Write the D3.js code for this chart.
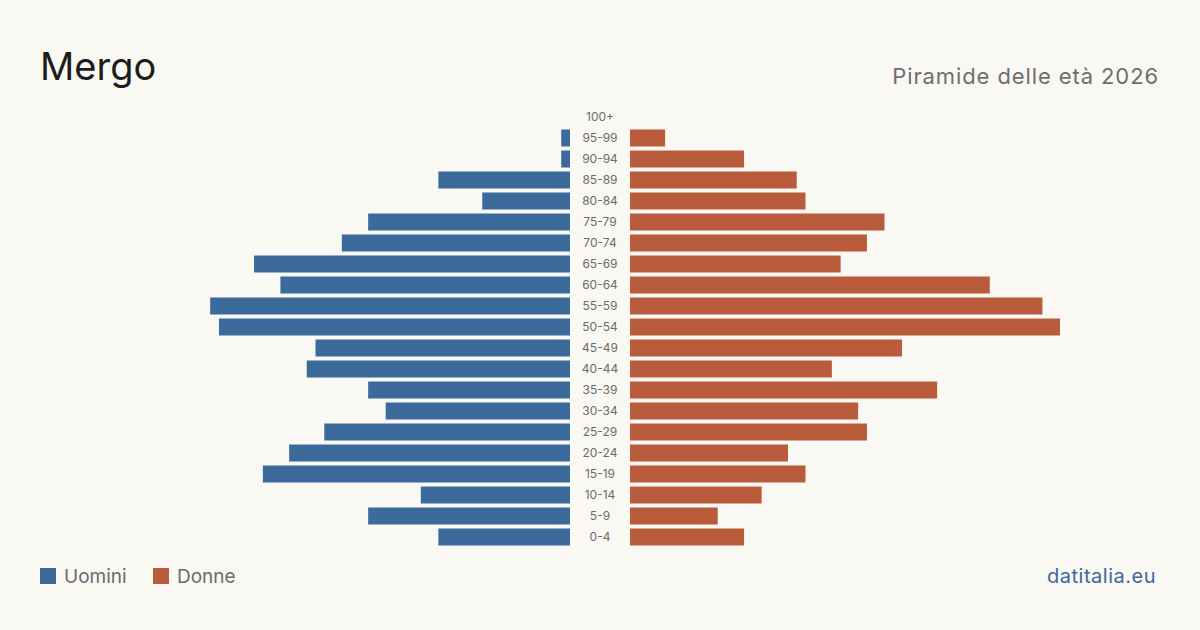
<!DOCTYPE html>
<html>
<head>
<meta charset="utf-8">
<script src="https://cdn.jsdelivr.net/npm/d3@7"></script>
<style>
  html, body { margin: 0; padding: 0; background: #f9f8f3; }
  svg { display: block; font-family: Inter, "Noto Sans", sans-serif; }
</style>
</head>
<body>
<svg id="drawing_region"></svg>
<script>
const ageGroups = ["100+", "95-99", "90-94", "85-89", "80-84", "75-79", "70-74", "65-69",
    "60-64", "55-59", "50-54", "45-49", "40-44", "35-39", "30-34", "25-29",
    "20-24", "15-19", "10-14", "5-9", "0-4"];
const men   = [0, 1, 1, 15, 10, 23, 26, 36, 33, 41, 40, 29, 30, 23, 21, 28, 32, 35, 17, 23, 15];
const women = [0, 4, 13, 19, 20, 29, 27, 24, 41, 47, 49, 31, 23, 35, 26, 27, 18, 20, 15, 10, 13];
const legendLabels = ["Uomini", "Donne"];

const config = {
    width: 1200,
    height: 630,
    center: 600,
    gap: 30,
    top: 106.5,
    bottom: 547.5,
    maxWidth: 430,
    colors: { men: "#3b6a9b", women: "#b95c3c" },
};

const svg = d3.select('#drawing_region')
    .attr('width', config.width)
    .attr('height', config.height);

svg.append('rect')
    .attr('width', config.width)
    .attr('height', config.height)
    .attr('fill', '#f9f8f3');

const yscale = d3.scaleBand()
    .domain(ageGroups)
    .range([config.top, config.bottom])
    .paddingInner(4 / 21)
    .paddingOuter(2 / 21);

const xmax = d3.max(men.concat(women));
const xscale = d3.scaleLinear()
    .domain([0, xmax])
    .range([0, config.maxWidth]);

const rows = ageGroups.map((a, i) => ({ age: a, m: men[i], w: women[i] }));

// men (left)
svg.append('g').selectAll('rect')
    .data(rows)
    .join('rect')
    .attr('x', d => config.center - config.gap - xscale(d.m))
    .attr('y', d => yscale(d.age))
    .attr('width', d => xscale(d.m))
    .attr('height', yscale.bandwidth())
    .attr('fill', config.colors.men);

// women (right)
svg.append('g').selectAll('rect')
    .data(rows)
    .join('rect')
    .attr('x', config.center + config.gap)
    .attr('y', d => yscale(d.age))
    .attr('width', d => xscale(d.w))
    .attr('height', yscale.bandwidth())
    .attr('fill', config.colors.women);

// age labels
svg.append('g').selectAll('text')
    .data(rows)
    .join('text')
    .attr('x', config.center)
    .attr('y', d => yscale(d.age) + yscale.bandwidth() / 2)
    .attr('dy', '0.35em')
    .attr('text-anchor', 'middle')
    .attr('font-size', '12px')
    .attr('fill', '#6b6b6b')
    .text(d => d.age);

// title
svg.append('text')
    .attr('x', 40)
    .attr('y', 80)
    .attr('font-size', '38px')
    .attr('fill', '#1c1c1c')
    .text('Mergo');

svg.append('text')
    .attr('x', 1159)
    .attr('y', 84)
    .attr('text-anchor', 'end')
    .attr('font-size', '22px')
    .attr('letter-spacing', '0.9px')
    .attr('fill', '#6e6e6e')
    .text('Piramide delle età 2026');

// legend
const legend = svg.append('g');
const legendX = [40, 153];
const legendColors = [config.colors.men, config.colors.women];
legendLabels.forEach((l, i) => {
    legend.append('rect')
        .attr('x', legendX[i])
        .attr('y', 568)
        .attr('width', 16)
        .attr('height', 16)
        .attr('fill', legendColors[i]);
    legend.append('text')
        .attr('x', legendX[i] + 24)
        .attr('y', 583)
        .attr('font-size', '19px')
        .attr('fill', '#6b6b6b')
        .text(l);
});

// footer
svg.append('text')
    .attr('x', 1156)
    .attr('y', 583)
    .attr('text-anchor', 'end')
    .attr('font-size', '20px')
    .attr('letter-spacing', '0.5px')
    .attr('fill', '#3b6a9b')
    .text('datitalia.eu');
</script>
</body>
</html>
